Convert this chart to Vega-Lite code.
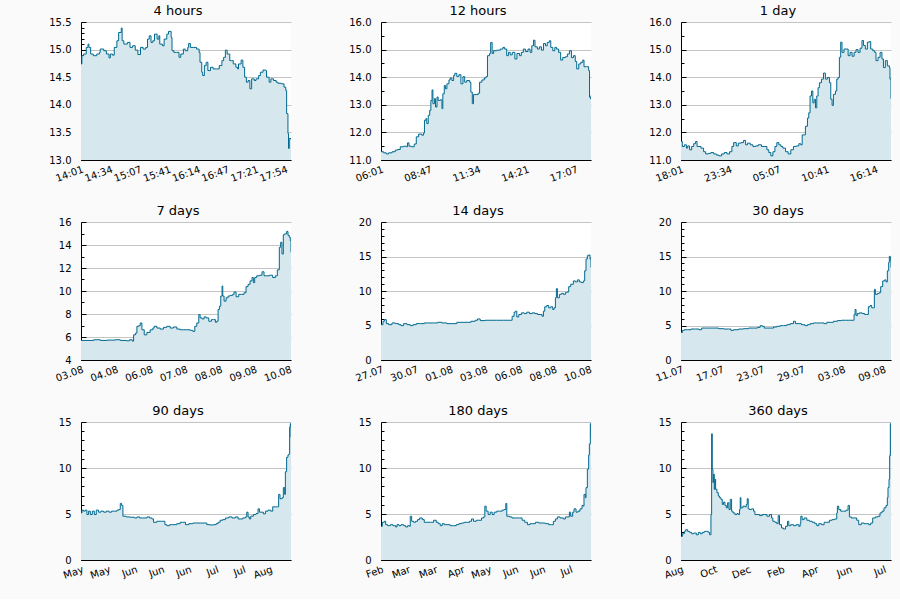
{
  "$schema": "https://vega.github.io/schema/vega-lite/v6.json",
  "background": "#fafafa",
  "padding": {"left": 48, "top": 5, "right": 9, "bottom": 18},
  "columns": 3,
  "spacing": {"row": 62, "column": 90},
  "bounds": "flush",
  "datasets": {
    "p1": [
      {"t":"2021-08-10T14:01:00","v":14.74},{"t":"2021-08-10T14:02:00","v":14.89},{"t":"2021-08-10T14:04:00","v":14.92},{"t":"2021-08-10T14:07:00","v":15.04},
      {"t":"2021-08-10T14:09:00","v":15.10},{"t":"2021-08-10T14:10:00","v":15.04},{"t":"2021-08-10T14:12:00","v":14.92},{"t":"2021-08-10T14:15:00","v":14.89},
      {"t":"2021-08-10T14:19:00","v":14.92},{"t":"2021-08-10T14:22:00","v":14.95},{"t":"2021-08-10T14:23:00","v":15.01},{"t":"2021-08-10T14:27:00","v":14.98},
      {"t":"2021-08-10T14:30:00","v":14.92},{"t":"2021-08-10T14:33:00","v":14.85},{"t":"2021-08-10T14:34:30","v":14.92},{"t":"2021-08-10T14:37:00","v":14.90},
      {"t":"2021-08-10T14:39:00","v":15.04},{"t":"2021-08-10T14:42:00","v":15.16},{"t":"2021-08-10T14:44:00","v":15.31},{"t":"2021-08-10T14:47:00","v":15.39},
      {"t":"2021-08-10T14:48:00","v":15.16},{"t":"2021-08-10T14:50:00","v":15.10},{"t":"2021-08-10T14:54:00","v":15.13},{"t":"2021-08-10T14:57:00","v":15.04},
      {"t":"2021-08-10T15:00:00","v":15.07},{"t":"2021-08-10T15:03:00","v":14.99},{"t":"2021-08-10T15:06:00","v":14.91},{"t":"2021-08-10T15:09:00","v":15.04},
      {"t":"2021-08-10T15:12:00","v":15.01},{"t":"2021-08-10T15:15:00","v":15.04},{"t":"2021-08-10T15:17:00","v":15.19},{"t":"2021-08-10T15:19:00","v":15.25},
      {"t":"2021-08-10T15:21:00","v":15.13},{"t":"2021-08-10T15:23:00","v":15.16},{"t":"2021-08-10T15:25:00","v":15.28},{"t":"2021-08-10T15:28:00","v":15.19},
      {"t":"2021-08-10T15:30:00","v":15.25},{"t":"2021-08-10T15:31:00","v":15.10},{"t":"2021-08-10T15:34:00","v":15.07},{"t":"2021-08-10T15:36:00","v":15.19},
      {"t":"2021-08-10T15:39:00","v":15.28},{"t":"2021-08-10T15:41:00","v":15.33},{"t":"2021-08-10T15:44:00","v":15.22},{"t":"2021-08-10T15:45:00","v":14.98},
      {"t":"2021-08-10T15:47:00","v":14.95},{"t":"2021-08-10T15:50:00","v":14.95},{"t":"2021-08-10T15:53:00","v":14.86},{"t":"2021-08-10T15:55:00","v":14.92},
      {"t":"2021-08-10T15:58:00","v":15.01},{"t":"2021-08-10T16:00:00","v":14.98},{"t":"2021-08-10T16:03:00","v":15.04},{"t":"2021-08-10T16:04:00","v":15.11},
      {"t":"2021-08-10T16:06:00","v":15.04},{"t":"2021-08-10T16:10:00","v":15.04},{"t":"2021-08-10T16:13:00","v":15.01},{"t":"2021-08-10T16:16:00","v":14.95},
      {"t":"2021-08-10T16:17:00","v":14.77},{"t":"2021-08-10T16:19:00","v":14.59},{"t":"2021-08-10T16:20:00","v":14.53},{"t":"2021-08-10T16:22:00","v":14.71},
      {"t":"2021-08-10T16:24:00","v":14.77},{"t":"2021-08-10T16:26:00","v":14.62},{"t":"2021-08-10T16:29:00","v":14.68},{"t":"2021-08-10T16:32:00","v":14.65},
      {"t":"2021-08-10T16:36:00","v":14.65},{"t":"2021-08-10T16:39:00","v":14.71},{"t":"2021-08-10T16:42:00","v":14.80},{"t":"2021-08-10T16:44:00","v":14.86},
      {"t":"2021-08-10T16:46:00","v":14.99},{"t":"2021-08-10T16:48:00","v":14.92},{"t":"2021-08-10T16:51:00","v":14.80},{"t":"2021-08-10T16:53:00","v":14.80},
      {"t":"2021-08-10T16:55:00","v":14.74},{"t":"2021-08-10T16:58:00","v":14.68},{"t":"2021-08-10T17:00:00","v":14.65},{"t":"2021-08-10T17:01:00","v":14.74},
      {"t":"2021-08-10T17:04:00","v":14.81},{"t":"2021-08-10T17:06:00","v":14.68},{"t":"2021-08-10T17:08:00","v":14.50},{"t":"2021-08-10T17:10:00","v":14.41},
      {"t":"2021-08-10T17:12:00","v":14.44},{"t":"2021-08-10T17:14:00","v":14.29},{"t":"2021-08-10T17:16:00","v":14.47},{"t":"2021-08-10T17:19:00","v":14.44},
      {"t":"2021-08-10T17:21:00","v":14.47},{"t":"2021-08-10T17:24:00","v":14.53},{"t":"2021-08-10T17:26:00","v":14.59},{"t":"2021-08-10T17:29:00","v":14.63},
      {"t":"2021-08-10T17:32:00","v":14.62},{"t":"2021-08-10T17:33:00","v":14.50},{"t":"2021-08-10T17:36:00","v":14.41},{"t":"2021-08-10T17:38:00","v":14.47},
      {"t":"2021-08-10T17:41:00","v":14.44},{"t":"2021-08-10T17:44:00","v":14.41},{"t":"2021-08-10T17:46:00","v":14.39},{"t":"2021-08-10T17:50:00","v":14.38},
      {"t":"2021-08-10T17:53:00","v":14.32},{"t":"2021-08-10T17:55:00","v":14.26},{"t":"2021-08-10T17:56:00","v":13.84},{"t":"2021-08-10T17:57:30","v":13.48},
      {"t":"2021-08-10T17:58:10","v":13.21},{"t":"2021-08-10T17:59:00","v":13.39},{"t":"2021-08-10T18:01:00","v":13.37}
    ],
    "p2": [
      {"t":"2021-08-10T06:01:00","v":11.30},{"t":"2021-08-10T06:10:00","v":11.26},{"t":"2021-08-10T06:19:00","v":11.22},{"t":"2021-08-10T06:27:00","v":11.26},
      {"t":"2021-08-10T06:39:00","v":11.30},{"t":"2021-08-10T06:50:00","v":11.36},{"t":"2021-08-10T06:58:00","v":11.38},{"t":"2021-08-10T07:07:00","v":11.48},
      {"t":"2021-08-10T07:19:00","v":11.50},{"t":"2021-08-10T07:28:00","v":11.48},{"t":"2021-08-10T07:32:00","v":11.62},{"t":"2021-08-10T07:37:00","v":11.50},
      {"t":"2021-08-10T07:46:00","v":11.48},{"t":"2021-08-10T07:55:00","v":11.58},{"t":"2021-08-10T08:02:00","v":11.84},{"t":"2021-08-10T08:10:00","v":11.94},
      {"t":"2021-08-10T08:21:00","v":11.90},{"t":"2021-08-10T08:27:00","v":11.98},{"t":"2021-08-10T08:30:00","v":12.44},{"t":"2021-08-10T08:35:00","v":12.50},
      {"t":"2021-08-10T08:38:00","v":12.32},{"t":"2021-08-10T08:43:00","v":12.62},{"t":"2021-08-10T08:48:00","v":12.80},{"t":"2021-08-10T08:52:00","v":13.16},
      {"t":"2021-08-10T08:56:00","v":13.54},{"t":"2021-08-10T08:59:00","v":13.04},{"t":"2021-08-10T09:04:00","v":13.22},{"t":"2021-08-10T09:08:00","v":12.92},
      {"t":"2021-08-10T09:13:00","v":13.28},{"t":"2021-08-10T09:17:00","v":13.16},{"t":"2021-08-10T09:24:00","v":13.18},{"t":"2021-08-10T09:30:00","v":12.86},
      {"t":"2021-08-10T09:33:00","v":13.40},{"t":"2021-08-10T09:38:00","v":13.70},{"t":"2021-08-10T09:42:00","v":13.58},{"t":"2021-08-10T09:47:00","v":13.76},
      {"t":"2021-08-10T09:54:00","v":13.90},{"t":"2021-08-10T09:58:00","v":13.97},{"t":"2021-08-10T10:04:00","v":13.88},{"t":"2021-08-10T10:10:00","v":14.06},
      {"t":"2021-08-10T10:14:00","v":14.14},{"t":"2021-08-10T10:21:00","v":14.02},{"t":"2021-08-10T10:28:00","v":14.09},{"t":"2021-08-10T10:35:00","v":13.76},
      {"t":"2021-08-10T10:42:00","v":14.02},{"t":"2021-08-10T10:48:00","v":13.82},{"t":"2021-08-10T10:55:00","v":13.88},{"t":"2021-08-10T11:05:00","v":13.82},
      {"t":"2021-08-10T11:09:00","v":13.46},{"t":"2021-08-10T11:14:00","v":13.04},{"t":"2021-08-10T11:18:00","v":13.37},{"t":"2021-08-10T11:27:00","v":13.37},
      {"t":"2021-08-10T11:34:00","v":13.42},{"t":"2021-08-10T11:39:00","v":13.82},{"t":"2021-08-10T11:47:00","v":13.90},{"t":"2021-08-10T11:55:00","v":13.97},
      {"t":"2021-08-10T12:01:00","v":14.02},{"t":"2021-08-10T12:06:00","v":14.78},{"t":"2021-08-10T12:13:00","v":14.86},{"t":"2021-08-10T12:17:00","v":15.26},
      {"t":"2021-08-10T12:22:00","v":14.86},{"t":"2021-08-10T12:27:00","v":14.96},{"t":"2021-08-10T12:38:00","v":14.98},{"t":"2021-08-10T12:50:00","v":15.02},
      {"t":"2021-08-10T12:59:00","v":15.08},{"t":"2021-08-10T13:05:00","v":15.02},{"t":"2021-08-10T13:12:00","v":14.78},{"t":"2021-08-10T13:18:00","v":14.90},
      {"t":"2021-08-10T13:24:00","v":14.81},{"t":"2021-08-10T13:31:00","v":14.90},{"t":"2021-08-10T13:40:00","v":14.66},{"t":"2021-08-10T13:47:00","v":14.86},
      {"t":"2021-08-10T13:56:00","v":14.78},{"t":"2021-08-10T14:02:00","v":14.90},{"t":"2021-08-10T14:09:00","v":15.02},{"t":"2021-08-10T14:16:00","v":14.93},
      {"t":"2021-08-10T14:25:00","v":15.02},{"t":"2021-08-10T14:32:00","v":14.90},{"t":"2021-08-10T14:38:00","v":15.14},{"t":"2021-08-10T14:44:00","v":15.34},
      {"t":"2021-08-10T14:49:00","v":15.10},{"t":"2021-08-10T14:57:00","v":15.02},{"t":"2021-08-10T15:04:00","v":15.10},{"t":"2021-08-10T15:11:00","v":14.98},
      {"t":"2021-08-10T15:18:00","v":15.22},{"t":"2021-08-10T15:25:00","v":15.14},{"t":"2021-08-10T15:31:00","v":15.26},{"t":"2021-08-10T15:38:00","v":15.32},
      {"t":"2021-08-10T15:43:00","v":15.08},{"t":"2021-08-10T15:50:00","v":14.96},{"t":"2021-08-10T15:57:00","v":15.08},{"t":"2021-08-10T16:03:00","v":15.02},
      {"t":"2021-08-10T16:10:00","v":14.90},{"t":"2021-08-10T16:17:00","v":14.62},{"t":"2021-08-10T16:24:00","v":14.71},{"t":"2021-08-10T16:33:00","v":14.74},
      {"t":"2021-08-10T16:40:00","v":14.84},{"t":"2021-08-10T16:47:00","v":14.96},{"t":"2021-08-10T16:54:00","v":14.71},{"t":"2021-08-10T17:01:00","v":14.78},
      {"t":"2021-08-10T17:07:00","v":14.57},{"t":"2021-08-10T17:12:00","v":14.30},{"t":"2021-08-10T17:19:00","v":14.48},{"t":"2021-08-10T17:26:00","v":14.54},
      {"t":"2021-08-10T17:33:00","v":14.62},{"t":"2021-08-10T17:37:00","v":14.38},{"t":"2021-08-10T17:46:00","v":14.38},{"t":"2021-08-10T17:53:00","v":14.24},
      {"t":"2021-08-10T17:56:00","v":13.28},{"t":"2021-08-10T17:59:00","v":13.22},{"t":"2021-08-10T18:01:00","v":13.34}
    ],
    "p3": [
      {"t":"2021-08-09T18:01:00","v":11.67},{"t":"2021-08-09T18:10:00","v":11.49},{"t":"2021-08-09T18:24:00","v":11.55},{"t":"2021-08-09T18:38:00","v":11.43},
      {"t":"2021-08-09T18:47:00","v":11.51},{"t":"2021-08-09T19:00:00","v":11.37},{"t":"2021-08-09T19:14:00","v":11.49},{"t":"2021-08-09T19:28:00","v":11.59},
      {"t":"2021-08-09T19:41:00","v":11.67},{"t":"2021-08-09T19:51:00","v":11.49},{"t":"2021-08-09T20:04:00","v":11.49},{"t":"2021-08-09T20:18:00","v":11.43},
      {"t":"2021-08-09T20:36:00","v":11.30},{"t":"2021-08-09T20:50:00","v":11.22},{"t":"2021-08-09T21:08:00","v":11.24},{"t":"2021-08-09T21:26:00","v":11.27},
      {"t":"2021-08-09T21:45:00","v":11.22},{"t":"2021-08-09T22:03:00","v":11.18},{"t":"2021-08-09T22:21:00","v":11.15},{"t":"2021-08-09T22:39:00","v":11.22},
      {"t":"2021-08-09T22:58:00","v":11.27},{"t":"2021-08-09T23:16:00","v":11.22},{"t":"2021-08-09T23:34:00","v":11.30},{"t":"2021-08-09T23:50:00","v":11.49},
      {"t":"2021-08-10T00:02:00","v":11.63},{"t":"2021-08-10T00:20:00","v":11.51},{"t":"2021-08-10T00:34:00","v":11.61},{"t":"2021-08-10T00:52:00","v":11.63},
      {"t":"2021-08-10T01:10:00","v":11.71},{"t":"2021-08-10T01:24:00","v":11.55},{"t":"2021-08-10T01:37:00","v":11.61},{"t":"2021-08-10T01:56:00","v":11.55},
      {"t":"2021-08-10T02:14:00","v":11.49},{"t":"2021-08-10T02:32:00","v":11.51},{"t":"2021-08-10T02:50:00","v":11.55},{"t":"2021-08-10T03:13:00","v":11.49},
      {"t":"2021-08-10T03:31:00","v":11.49},{"t":"2021-08-10T03:50:00","v":11.37},{"t":"2021-08-10T04:03:00","v":11.27},{"t":"2021-08-10T04:17:00","v":11.15},
      {"t":"2021-08-10T04:31:00","v":11.30},{"t":"2021-08-10T04:45:00","v":11.49},{"t":"2021-08-10T04:58:00","v":11.63},{"t":"2021-08-10T05:12:00","v":11.55},
      {"t":"2021-08-10T05:26:00","v":11.49},{"t":"2021-08-10T05:39:00","v":11.43},{"t":"2021-08-10T05:58:00","v":11.30},{"t":"2021-08-10T06:16:00","v":11.22},
      {"t":"2021-08-10T06:34:00","v":11.37},{"t":"2021-08-10T06:52:00","v":11.49},{"t":"2021-08-10T07:11:00","v":11.51},{"t":"2021-08-10T07:29:00","v":11.59},
      {"t":"2021-08-10T07:42:00","v":11.55},{"t":"2021-08-10T07:52:00","v":11.91},{"t":"2021-08-10T08:05:00","v":11.91},{"t":"2021-08-10T08:14:00","v":12.22},
      {"t":"2021-08-10T08:28:00","v":12.52},{"t":"2021-08-10T08:37:00","v":12.71},{"t":"2021-08-10T08:46:00","v":13.32},{"t":"2021-08-10T08:56:00","v":13.50},
      {"t":"2021-08-10T09:05:00","v":13.07},{"t":"2021-08-10T09:14:00","v":13.20},{"t":"2021-08-10T09:23:00","v":12.89},{"t":"2021-08-10T09:32:00","v":13.32},
      {"t":"2021-08-10T09:41:00","v":13.62},{"t":"2021-08-10T09:50:00","v":13.80},{"t":"2021-08-10T10:04:00","v":13.93},{"t":"2021-08-10T10:18:00","v":14.15},
      {"t":"2021-08-10T10:31:00","v":13.93},{"t":"2021-08-10T10:45:00","v":13.99},{"t":"2021-08-10T10:59:00","v":13.80},{"t":"2021-08-10T11:08:00","v":13.20},
      {"t":"2021-08-10T11:17:00","v":12.98},{"t":"2021-08-10T11:26:00","v":13.38},{"t":"2021-08-10T11:40:00","v":13.50},{"t":"2021-08-10T11:49:00","v":13.93},
      {"t":"2021-08-10T11:58:00","v":13.99},{"t":"2021-08-10T12:07:00","v":14.72},{"t":"2021-08-10T12:16:00","v":15.27},{"t":"2021-08-10T12:25:00","v":14.90},
      {"t":"2021-08-10T12:39:00","v":15.02},{"t":"2021-08-10T12:53:00","v":15.02},{"t":"2021-08-10T13:07:00","v":14.78},{"t":"2021-08-10T13:20:00","v":14.90},
      {"t":"2021-08-10T13:34:00","v":14.76},{"t":"2021-08-10T13:48:00","v":14.90},{"t":"2021-08-10T14:01:00","v":15.00},{"t":"2021-08-10T14:15:00","v":14.90},
      {"t":"2021-08-10T14:29:00","v":15.05},{"t":"2021-08-10T14:42:00","v":15.33},{"t":"2021-08-10T14:52:00","v":15.15},{"t":"2021-08-10T15:05:00","v":15.02},
      {"t":"2021-08-10T15:19:00","v":15.27},{"t":"2021-08-10T15:33:00","v":15.29},{"t":"2021-08-10T15:42:00","v":15.02},{"t":"2021-08-10T15:56:00","v":14.96},
      {"t":"2021-08-10T16:09:00","v":14.90},{"t":"2021-08-10T16:18:00","v":14.60},{"t":"2021-08-10T16:32:00","v":14.72},{"t":"2021-08-10T16:46:00","v":14.90},
      {"t":"2021-08-10T16:59:00","v":14.66},{"t":"2021-08-10T17:09:00","v":14.35},{"t":"2021-08-10T17:22:00","v":14.60},{"t":"2021-08-10T17:36:00","v":14.41},
      {"t":"2021-08-10T17:50:00","v":14.35},{"t":"2021-08-10T17:54:00","v":13.93},{"t":"2021-08-10T18:01:00","v":13.22}
    ],
    "p4": [
      {"t":"2021-08-03T18:01:00","v":5.70},{"t":"2021-08-03T22:48:00","v":5.70},{"t":"2021-08-04T04:08:00","v":5.76},{"t":"2021-08-04T09:27:00","v":5.70},
      {"t":"2021-08-04T14:47:00","v":5.73},{"t":"2021-08-04T21:26:00","v":5.76},{"t":"2021-08-05T01:26:00","v":5.70},{"t":"2021-08-05T06:13:00","v":5.67},
      {"t":"2021-08-05T08:53:00","v":5.76},{"t":"2021-08-05T11:01:00","v":5.64},{"t":"2021-08-05T12:05:00","v":6.19},{"t":"2021-08-05T13:41:00","v":6.34},
      {"t":"2021-08-05T14:44:00","v":6.93},{"t":"2021-08-05T16:20:00","v":6.99},{"t":"2021-08-05T17:24:00","v":7.22},{"t":"2021-08-05T18:44:00","v":6.63},
      {"t":"2021-08-05T20:36:00","v":6.19},{"t":"2021-08-05T22:44:00","v":6.40},{"t":"2021-08-06T01:23:00","v":6.63},{"t":"2021-08-06T03:31:00","v":6.78},
      {"t":"2021-08-06T04:35:00","v":6.93},{"t":"2021-08-06T06:42:00","v":6.78},{"t":"2021-08-06T09:22:00","v":6.69},{"t":"2021-08-06T12:02:00","v":6.84},
      {"t":"2021-08-06T14:42:00","v":6.93},{"t":"2021-08-06T17:21:00","v":6.78},{"t":"2021-08-06T20:01:00","v":6.87},{"t":"2021-08-06T22:41:00","v":6.69},
      {"t":"2021-08-07T01:21:00","v":6.63},{"t":"2021-08-07T04:00:00","v":6.63},{"t":"2021-08-07T06:40:00","v":6.63},{"t":"2021-08-07T09:20:00","v":6.58},
      {"t":"2021-08-07T11:27:00","v":6.49},{"t":"2021-08-07T13:03:00","v":6.93},{"t":"2021-08-07T14:39:00","v":7.22},{"t":"2021-08-07T16:15:00","v":7.95},
      {"t":"2021-08-07T17:19:00","v":7.66},{"t":"2021-08-07T18:55:00","v":7.57},{"t":"2021-08-07T20:30:00","v":7.75},{"t":"2021-08-07T22:06:00","v":7.66},
      {"t":"2021-08-08T00:14:00","v":7.37},{"t":"2021-08-08T02:22:00","v":7.51},{"t":"2021-08-08T03:58:00","v":7.51},{"t":"2021-08-08T05:33:00","v":7.28},
      {"t":"2021-08-08T06:38:00","v":7.37},{"t":"2021-08-08T07:41:00","v":8.39},{"t":"2021-08-08T08:45:00","v":8.68},{"t":"2021-08-08T09:49:00","v":9.56},
      {"t":"2021-08-08T10:53:00","v":10.44},{"t":"2021-08-08T11:25:00","v":9.56},{"t":"2021-08-08T12:29:00","v":9.12},{"t":"2021-08-08T14:05:00","v":9.41},
      {"t":"2021-08-08T15:41:00","v":9.56},{"t":"2021-08-08T17:17:00","v":9.62},{"t":"2021-08-08T19:24:00","v":9.71},{"t":"2021-08-08T20:28:00","v":9.91},
      {"t":"2021-08-08T22:04:00","v":9.50},{"t":"2021-08-09T00:12:00","v":9.71},{"t":"2021-08-09T02:20:00","v":9.71},{"t":"2021-08-09T04:27:00","v":9.85},
      {"t":"2021-08-09T06:03:00","v":10.38},{"t":"2021-08-09T07:39:00","v":10.58},{"t":"2021-08-09T09:15:00","v":10.88},{"t":"2021-08-09T10:51:00","v":11.17},
      {"t":"2021-08-09T11:54:00","v":10.73},{"t":"2021-08-09T12:58:00","v":11.17},{"t":"2021-08-09T14:34:00","v":11.32},{"t":"2021-08-09T16:42:00","v":11.37},
      {"t":"2021-08-09T18:50:00","v":11.67},{"t":"2021-08-09T20:26:00","v":11.32},{"t":"2021-08-09T22:33:00","v":11.32},{"t":"2021-08-10T00:41:00","v":11.37},
      {"t":"2021-08-10T03:21:00","v":11.17},{"t":"2021-08-10T05:29:00","v":11.32},{"t":"2021-08-10T07:05:00","v":11.84},{"t":"2021-08-10T08:40:00","v":13.80},
      {"t":"2021-08-10T09:44:00","v":14.24},{"t":"2021-08-10T10:48:00","v":13.22},{"t":"2021-08-10T11:52:00","v":14.89},{"t":"2021-08-10T12:56:00","v":14.97},
      {"t":"2021-08-10T14:32:00","v":15.18},{"t":"2021-08-10T15:36:00","v":14.83},{"t":"2021-08-10T16:39:00","v":14.68},{"t":"2021-08-10T17:27:00","v":14.39},
      {"t":"2021-08-10T18:01:00","v":13.37}
    ],
    "p5": [
      {"t":"2021-07-27T18:01:00","v":5.12},{"t":"2021-07-27T21:13:00","v":5.61},{"t":"2021-07-27T23:21:00","v":5.85},{"t":"2021-07-28T02:32:00","v":5.27},
      {"t":"2021-07-28T06:16:00","v":5.12},{"t":"2021-07-28T11:35:00","v":5.37},{"t":"2021-07-28T16:55:00","v":5.27},{"t":"2021-07-28T22:14:00","v":5.12},
      {"t":"2021-07-29T01:58:00","v":4.98},{"t":"2021-07-29T06:14:00","v":5.27},{"t":"2021-07-29T11:33:00","v":5.12},{"t":"2021-07-29T16:53:00","v":4.98},
      {"t":"2021-07-29T21:08:00","v":5.12},{"t":"2021-07-30T02:28:00","v":5.27},{"t":"2021-07-30T08:51:00","v":5.27},{"t":"2021-07-30T15:15:00","v":5.37},
      {"t":"2021-07-30T22:10:00","v":5.37},{"t":"2021-07-31T06:09:00","v":5.37},{"t":"2021-07-31T12:33:00","v":5.46},{"t":"2021-07-31T19:28:00","v":5.37},
      {"t":"2021-08-01T03:27:00","v":5.27},{"t":"2021-08-01T11:26:00","v":5.27},{"t":"2021-08-01T19:26:00","v":5.46},{"t":"2021-08-02T03:25:00","v":5.46},
      {"t":"2021-08-02T11:24:00","v":5.46},{"t":"2021-08-02T17:48:00","v":5.61},{"t":"2021-08-03T00:43:00","v":5.76},{"t":"2021-08-03T04:27:00","v":5.95},
      {"t":"2021-08-03T08:42:00","v":5.71},{"t":"2021-08-03T16:41:00","v":5.76},{"t":"2021-08-04T00:41:00","v":5.76},{"t":"2021-08-04T11:20:00","v":5.76},
      {"t":"2021-08-04T21:59:00","v":5.76},{"t":"2021-08-05T03:18:00","v":5.76},{"t":"2021-08-05T09:42:00","v":5.76},{"t":"2021-08-05T11:50:00","v":6.34},
      {"t":"2021-08-05T15:01:00","v":6.93},{"t":"2021-08-05T17:09:00","v":7.07},{"t":"2021-08-05T19:17:00","v":6.24},{"t":"2021-08-05T22:29:00","v":6.59},
      {"t":"2021-08-06T02:44:00","v":6.83},{"t":"2021-08-06T06:59:00","v":6.73},{"t":"2021-08-06T11:15:00","v":6.93},{"t":"2021-08-06T15:31:00","v":6.73},
      {"t":"2021-08-06T19:47:00","v":6.83},{"t":"2021-08-07T00:02:00","v":6.73},{"t":"2021-08-07T04:18:00","v":6.59},{"t":"2021-08-07T08:33:00","v":6.59},
      {"t":"2021-08-07T11:45:00","v":6.34},{"t":"2021-08-07T13:53:00","v":7.07},{"t":"2021-08-07T16:00:00","v":7.71},{"t":"2021-08-07T19:12:00","v":7.90},
      {"t":"2021-08-07T22:24:00","v":7.56},{"t":"2021-08-08T01:36:00","v":7.71},{"t":"2021-08-08T04:47:00","v":7.32},{"t":"2021-08-08T06:55:00","v":7.56},
      {"t":"2021-08-08T09:03:00","v":9.02},{"t":"2021-08-08T10:39:00","v":10.34},{"t":"2021-08-08T12:15:00","v":9.02},{"t":"2021-08-08T15:26:00","v":9.51},
      {"t":"2021-08-08T18:38:00","v":9.66},{"t":"2021-08-08T21:50:00","v":9.51},{"t":"2021-08-09T01:02:00","v":9.76},{"t":"2021-08-09T03:09:00","v":9.85},
      {"t":"2021-08-09T06:21:00","v":10.63},{"t":"2021-08-09T09:33:00","v":10.98},{"t":"2021-08-09T13:48:00","v":11.46},{"t":"2021-08-09T17:00:00","v":11.32},
      {"t":"2021-08-09T20:12:00","v":11.61},{"t":"2021-08-09T23:23:00","v":11.32},{"t":"2021-08-10T02:35:00","v":11.22},{"t":"2021-08-10T05:47:00","v":11.46},
      {"t":"2021-08-10T07:54:00","v":12.93},{"t":"2021-08-10T10:02:00","v":14.63},{"t":"2021-08-10T12:10:00","v":15.12},{"t":"2021-08-10T14:18:00","v":15.22},
      {"t":"2021-08-10T16:26:00","v":14.63},{"t":"2021-08-10T18:01:00","v":13.41}
    ],
    "p6": [
      {"t":"2021-07-11T18:01:00","v":4.00},{"t":"2021-07-11T22:35:00","v":4.29},{"t":"2021-07-12T05:26:00","v":4.39},{"t":"2021-07-12T16:50:00","v":4.39},
      {"t":"2021-07-13T04:15:00","v":4.49},{"t":"2021-07-13T19:05:00","v":4.49},{"t":"2021-07-14T07:38:00","v":4.39},{"t":"2021-07-14T16:45:00","v":4.63},
      {"t":"2021-07-15T01:53:00","v":4.63},{"t":"2021-07-15T16:44:00","v":4.63},{"t":"2021-07-16T09:50:00","v":4.63},{"t":"2021-07-17T02:57:00","v":4.54},
      {"t":"2021-07-17T20:04:00","v":4.49},{"t":"2021-07-18T13:11:00","v":4.49},{"t":"2021-07-18T21:10:00","v":4.29},{"t":"2021-07-19T06:18:00","v":4.39},
      {"t":"2021-07-19T23:25:00","v":4.49},{"t":"2021-07-20T16:32:00","v":4.54},{"t":"2021-07-21T09:39:00","v":4.63},{"t":"2021-07-22T02:45:00","v":4.63},
      {"t":"2021-07-22T16:27:00","v":4.73},{"t":"2021-07-23T01:35:00","v":4.98},{"t":"2021-07-23T08:26:00","v":4.88},{"t":"2021-07-23T15:17:00","v":4.63},
      {"t":"2021-07-24T00:24:00","v":4.63},{"t":"2021-07-24T11:49:00","v":4.63},{"t":"2021-07-24T23:14:00","v":4.78},{"t":"2021-07-25T10:38:00","v":4.88},
      {"t":"2021-07-25T22:03:00","v":4.98},{"t":"2021-07-26T09:27:00","v":4.98},{"t":"2021-07-26T20:52:00","v":5.12},{"t":"2021-07-27T08:17:00","v":5.27},
      {"t":"2021-07-27T19:41:00","v":5.61},{"t":"2021-07-28T02:32:00","v":5.27},{"t":"2021-07-28T11:40:00","v":5.27},{"t":"2021-07-28T23:05:00","v":5.12},
      {"t":"2021-07-29T10:29:00","v":4.98},{"t":"2021-07-29T19:37:00","v":5.12},{"t":"2021-07-30T04:45:00","v":5.27},{"t":"2021-07-30T16:09:00","v":5.37},
      {"t":"2021-07-31T03:34:00","v":5.37},{"t":"2021-07-31T14:59:00","v":5.37},{"t":"2021-08-01T04:40:00","v":5.27},{"t":"2021-08-01T13:48:00","v":5.46},
      {"t":"2021-08-02T01:12:00","v":5.46},{"t":"2021-08-02T12:37:00","v":5.61},{"t":"2021-08-03T02:18:00","v":5.71},{"t":"2021-08-03T16:00:00","v":5.76},
      {"t":"2021-08-04T05:41:00","v":5.76},{"t":"2021-08-04T19:23:00","v":5.76},{"t":"2021-08-05T09:05:00","v":5.76},{"t":"2021-08-05T11:21:00","v":6.59},
      {"t":"2021-08-05T14:47:00","v":7.32},{"t":"2021-08-05T18:12:00","v":6.44},{"t":"2021-08-05T22:46:00","v":6.73},{"t":"2021-08-06T05:37:00","v":6.83},
      {"t":"2021-08-06T14:45:00","v":6.73},{"t":"2021-08-06T23:53:00","v":6.59},{"t":"2021-08-07T06:43:00","v":6.59},{"t":"2021-08-07T12:26:00","v":7.71},
      {"t":"2021-08-07T18:08:00","v":7.90},{"t":"2021-08-07T23:50:00","v":7.56},{"t":"2021-08-08T05:32:00","v":7.56},{"t":"2021-08-08T08:58:00","v":10.24},
      {"t":"2021-08-08T12:23:00","v":9.51},{"t":"2021-08-08T19:14:00","v":9.66},{"t":"2021-08-09T02:05:00","v":9.76},{"t":"2021-08-09T06:39:00","v":10.63},
      {"t":"2021-08-09T13:29:00","v":11.46},{"t":"2021-08-09T20:20:00","v":11.61},{"t":"2021-08-10T00:54:00","v":11.32},{"t":"2021-08-10T05:28:00","v":12.93},
      {"t":"2021-08-10T10:02:00","v":14.15},{"t":"2021-08-10T12:18:00","v":15.02},{"t":"2021-08-10T15:44:00","v":14.39},{"t":"2021-08-10T18:01:00","v":13.41}
    ],
    "p7": [
      {"t":"2021-05-12T18:01:00","v":5.12},{"t":"2021-05-13T04:00:00","v":5.42},{"t":"2021-05-13T21:00:00","v":5.31},{"t":"2021-05-14T14:00:00","v":5.42},
      {"t":"2021-05-15T07:00:00","v":4.94},{"t":"2021-05-16T00:00:00","v":5.31},{"t":"2021-05-16T18:00:00","v":4.94},{"t":"2021-05-17T14:00:00","v":5.31},
      {"t":"2021-05-18T11:00:00","v":4.94},{"t":"2021-05-19T07:00:00","v":5.42},{"t":"2021-05-20T07:00:00","v":5.20},{"t":"2021-05-21T07:00:00","v":5.31},
      {"t":"2021-05-22T11:00:00","v":5.20},{"t":"2021-05-23T14:00:00","v":5.31},{"t":"2021-05-24T18:00:00","v":5.20},{"t":"2021-05-25T21:00:00","v":5.31},
      {"t":"2021-05-27T00:00:00","v":5.31},{"t":"2021-05-28T04:00:00","v":5.42},{"t":"2021-05-29T00:00:00","v":5.49},{"t":"2021-05-29T14:00:00","v":6.15},
      {"t":"2021-05-30T04:00:00","v":5.93},{"t":"2021-05-30T17:00:00","v":4.76},{"t":"2021-06-01T04:00:00","v":4.68},{"t":"2021-06-02T21:00:00","v":4.65},
      {"t":"2021-06-04T14:00:00","v":4.57},{"t":"2021-06-05T17:00:00","v":4.68},{"t":"2021-06-06T20:00:00","v":4.57},{"t":"2021-06-08T07:00:00","v":4.57},
      {"t":"2021-06-10T00:00:00","v":4.68},{"t":"2021-06-11T03:00:00","v":4.57},{"t":"2021-06-12T03:00:00","v":4.46},{"t":"2021-06-12T20:00:00","v":4.10},
      {"t":"2021-06-14T06:00:00","v":4.21},{"t":"2021-06-15T17:00:00","v":4.21},{"t":"2021-06-16T20:00:00","v":4.21},{"t":"2021-06-17T17:00:00","v":3.84},
      {"t":"2021-06-18T13:00:00","v":3.73},{"t":"2021-06-19T17:00:00","v":3.84},{"t":"2021-06-21T03:00:00","v":3.84},{"t":"2021-06-22T20:00:00","v":3.95},
      {"t":"2021-06-24T06:00:00","v":4.10},{"t":"2021-06-25T09:00:00","v":4.10},{"t":"2021-06-26T13:00:00","v":3.84},{"t":"2021-06-27T23:00:00","v":3.95},
      {"t":"2021-06-29T16:00:00","v":4.02},{"t":"2021-07-01T09:00:00","v":4.02},{"t":"2021-07-02T20:00:00","v":4.02},{"t":"2021-07-04T12:00:00","v":4.02},
      {"t":"2021-07-05T16:00:00","v":3.84},{"t":"2021-07-07T02:00:00","v":3.81},{"t":"2021-07-08T12:00:00","v":3.84},{"t":"2021-07-09T16:00:00","v":3.95},
      {"t":"2021-07-10T12:00:00","v":4.10},{"t":"2021-07-11T09:00:00","v":4.32},{"t":"2021-07-12T12:00:00","v":4.39},{"t":"2021-07-13T16:00:00","v":4.57},
      {"t":"2021-07-15T02:00:00","v":4.68},{"t":"2021-07-16T12:00:00","v":4.57},{"t":"2021-07-17T22:00:00","v":4.68},{"t":"2021-07-19T02:00:00","v":4.46},
      {"t":"2021-07-20T05:00:00","v":4.46},{"t":"2021-07-21T02:00:00","v":4.57},{"t":"2021-07-22T05:00:00","v":4.68},{"t":"2021-07-22T19:00:00","v":5.20},
      {"t":"2021-07-23T08:00:00","v":4.68},{"t":"2021-07-23T22:00:00","v":4.46},{"t":"2021-07-24T12:00:00","v":4.76},{"t":"2021-07-25T15:00:00","v":4.94},
      {"t":"2021-07-26T19:00:00","v":5.05},{"t":"2021-07-27T15:00:00","v":5.56},{"t":"2021-07-28T05:00:00","v":5.20},{"t":"2021-07-29T08:00:00","v":5.20},
      {"t":"2021-07-29T22:00:00","v":5.01},{"t":"2021-07-30T19:00:00","v":5.31},{"t":"2021-07-31T22:00:00","v":5.42},{"t":"2021-08-02T01:00:00","v":5.31},
      {"t":"2021-08-02T22:00:00","v":5.78},{"t":"2021-08-04T01:00:00","v":5.78},{"t":"2021-08-04T22:00:00","v":5.78},{"t":"2021-08-05T11:00:00","v":7.13},
      {"t":"2021-08-06T01:00:00","v":6.66},{"t":"2021-08-06T22:00:00","v":6.77},{"t":"2021-08-07T11:00:00","v":7.87},{"t":"2021-08-08T01:00:00","v":7.13},
      {"t":"2021-08-08T08:00:00","v":9.59},{"t":"2021-08-08T21:00:00","v":11.16},{"t":"2021-08-09T11:00:00","v":11.42},{"t":"2021-08-09T21:00:00","v":11.53},
      {"t":"2021-08-10T04:00:00","v":14.45},{"t":"2021-08-10T11:00:00","v":14.82},{"t":"2021-08-10T18:01:00","v":13.36}
    ],
    "p8": [
      {"t":"2021-02-11T18:01:00","v":3.66},{"t":"2021-02-12T21:00:00","v":4.10},{"t":"2021-02-14T14:00:00","v":4.21},{"t":"2021-02-15T18:00:00","v":3.84},
      {"t":"2021-02-17T11:00:00","v":3.73},{"t":"2021-02-19T18:00:00","v":3.84},{"t":"2021-02-22T00:00:00","v":3.73},{"t":"2021-02-24T07:00:00","v":3.59},
      {"t":"2021-02-25T11:00:00","v":3.84},{"t":"2021-02-27T04:00:00","v":3.73},{"t":"2021-02-28T21:00:00","v":3.84},{"t":"2021-03-03T04:00:00","v":3.73},
      {"t":"2021-03-04T21:00:00","v":3.59},{"t":"2021-03-06T14:00:00","v":3.73},{"t":"2021-03-08T07:00:00","v":3.66},{"t":"2021-03-08T20:00:00","v":4.76},
      {"t":"2021-03-10T00:00:00","v":4.21},{"t":"2021-03-11T17:00:00","v":4.10},{"t":"2021-03-13T10:00:00","v":4.21},{"t":"2021-03-15T03:00:00","v":4.39},
      {"t":"2021-03-16T20:00:00","v":4.57},{"t":"2021-03-19T03:00:00","v":4.39},{"t":"2021-03-20T20:00:00","v":4.10},{"t":"2021-03-23T03:00:00","v":4.10},
      {"t":"2021-03-25T23:00:00","v":4.10},{"t":"2021-03-28T20:00:00","v":4.32},{"t":"2021-03-31T02:00:00","v":4.10},{"t":"2021-04-01T20:00:00","v":3.95},
      {"t":"2021-04-03T13:00:00","v":3.73},{"t":"2021-04-05T06:00:00","v":3.95},{"t":"2021-04-06T23:00:00","v":3.84},{"t":"2021-04-09T06:00:00","v":3.84},
      {"t":"2021-04-12T02:00:00","v":3.73},{"t":"2021-04-14T23:00:00","v":3.73},{"t":"2021-04-17T05:00:00","v":3.84},{"t":"2021-04-19T12:00:00","v":3.95},
      {"t":"2021-04-21T19:00:00","v":4.02},{"t":"2021-04-24T02:00:00","v":4.10},{"t":"2021-04-26T08:00:00","v":4.10},{"t":"2021-04-28T15:00:00","v":4.21},
      {"t":"2021-04-30T08:00:00","v":4.46},{"t":"2021-05-02T01:00:00","v":4.21},{"t":"2021-05-04T08:00:00","v":4.32},{"t":"2021-05-06T15:00:00","v":4.32},
      {"t":"2021-05-08T22:00:00","v":4.57},{"t":"2021-05-10T15:00:00","v":4.68},{"t":"2021-05-11T18:00:00","v":5.85},{"t":"2021-05-12T21:00:00","v":5.31},
      {"t":"2021-05-14T14:00:00","v":4.94},{"t":"2021-05-16T08:00:00","v":5.20},{"t":"2021-05-18T01:00:00","v":4.94},{"t":"2021-05-19T18:00:00","v":5.20},
      {"t":"2021-05-22T00:00:00","v":5.31},{"t":"2021-05-24T07:00:00","v":5.31},{"t":"2021-05-26T14:00:00","v":5.42},{"t":"2021-05-28T07:00:00","v":5.49},
      {"t":"2021-05-29T17:00:00","v":6.15},{"t":"2021-05-30T14:00:00","v":4.76},{"t":"2021-06-01T21:00:00","v":4.68},{"t":"2021-06-04T03:00:00","v":4.57},
      {"t":"2021-06-07T14:00:00","v":4.57},{"t":"2021-06-10T10:00:00","v":4.57},{"t":"2021-06-12T17:00:00","v":4.32},{"t":"2021-06-14T23:00:00","v":4.10},
      {"t":"2021-06-17T06:00:00","v":3.84},{"t":"2021-06-19T13:00:00","v":3.95},{"t":"2021-06-21T20:00:00","v":3.95},{"t":"2021-06-24T03:00:00","v":4.10},
      {"t":"2021-06-26T23:00:00","v":4.02},{"t":"2021-06-29T20:00:00","v":4.02},{"t":"2021-07-02T16:00:00","v":3.95},{"t":"2021-07-05T12:00:00","v":3.84},
      {"t":"2021-07-07T19:00:00","v":3.84},{"t":"2021-07-09T12:00:00","v":4.21},{"t":"2021-07-11T06:00:00","v":4.46},{"t":"2021-07-12T23:00:00","v":4.68},
      {"t":"2021-07-15T05:00:00","v":4.57},{"t":"2021-07-18T02:00:00","v":4.46},{"t":"2021-07-19T19:00:00","v":4.68},{"t":"2021-07-22T02:00:00","v":4.68},
      {"t":"2021-07-23T05:00:00","v":5.20},{"t":"2021-07-24T08:00:00","v":4.76},{"t":"2021-07-26T01:00:00","v":5.20},{"t":"2021-07-27T05:00:00","v":5.56},
      {"t":"2021-07-28T22:00:00","v":5.20},{"t":"2021-07-30T15:00:00","v":5.31},{"t":"2021-08-01T08:00:00","v":5.56},{"t":"2021-08-03T01:00:00","v":5.93},
      {"t":"2021-08-04T05:00:00","v":5.85},{"t":"2021-08-04T18:00:00","v":7.13},{"t":"2021-08-05T22:00:00","v":6.77},{"t":"2021-08-06T11:00:00","v":7.87},
      {"t":"2021-08-07T15:00:00","v":9.88},{"t":"2021-08-08T18:00:00","v":11.42},{"t":"2021-08-09T08:00:00","v":12.62},{"t":"2021-08-10T04:00:00","v":14.82},
      {"t":"2021-08-10T18:01:00","v":13.36}
    ],
    "p9": [
      {"t":"2020-08-15T18:01:00","v":2.56},{"t":"2020-08-18T01:00:00","v":2.85},{"t":"2020-08-21T11:00:00","v":3.11},{"t":"2020-08-23T18:00:00","v":3.29},
      {"t":"2020-08-27T04:00:00","v":3.11},{"t":"2020-08-30T14:00:00","v":3.00},{"t":"2020-09-03T00:00:00","v":2.85},{"t":"2020-09-06T10:00:00","v":2.93},
      {"t":"2020-09-11T00:00:00","v":2.74},{"t":"2020-09-14T10:00:00","v":3.00},{"t":"2020-09-17T20:00:00","v":2.85},{"t":"2020-09-21T06:00:00","v":3.00},
      {"t":"2020-09-24T17:00:00","v":3.11},{"t":"2020-09-28T03:00:00","v":3.11},{"t":"2020-10-01T13:00:00","v":3.00},{"t":"2020-10-03T19:00:00","v":2.74},
      {"t":"2020-10-05T12:00:00","v":2.74},{"t":"2020-10-06T02:00:00","v":4.94},{"t":"2020-10-07T06:00:00","v":13.72},{"t":"2020-10-08T09:00:00","v":9.88},
      {"t":"2020-10-09T12:00:00","v":8.42},{"t":"2020-10-10T16:00:00","v":9.33},{"t":"2020-10-11T19:00:00","v":7.68},{"t":"2020-10-12T23:00:00","v":8.78},
      {"t":"2020-10-14T02:00:00","v":7.68},{"t":"2020-10-16T09:00:00","v":7.32},{"t":"2020-10-18T16:00:00","v":6.95},{"t":"2020-10-20T22:00:00","v":6.77},
      {"t":"2020-10-23T05:00:00","v":6.59},{"t":"2020-10-25T12:00:00","v":6.04},{"t":"2020-10-27T18:00:00","v":6.29},{"t":"2020-10-30T01:00:00","v":5.93},
      {"t":"2020-11-01T08:00:00","v":5.67},{"t":"2020-11-03T15:00:00","v":6.22},{"t":"2020-11-05T22:00:00","v":5.49},{"t":"2020-11-08T04:00:00","v":6.59},
      {"t":"2020-11-10T11:00:00","v":5.31},{"t":"2020-11-12T18:00:00","v":5.12},{"t":"2020-11-16T04:00:00","v":4.94},{"t":"2020-11-19T14:00:00","v":5.05},
      {"t":"2020-11-21T21:00:00","v":4.94},{"t":"2020-11-24T04:00:00","v":5.49},{"t":"2020-11-25T07:00:00","v":6.77},{"t":"2020-11-26T11:00:00","v":5.67},
      {"t":"2020-11-29T21:00:00","v":5.85},{"t":"2020-12-03T07:00:00","v":5.78},{"t":"2020-12-05T14:00:00","v":6.04},{"t":"2020-12-07T07:00:00","v":6.66},
      {"t":"2020-12-09T00:00:00","v":5.56},{"t":"2020-12-11T06:00:00","v":5.49},{"t":"2020-12-14T17:00:00","v":5.56},{"t":"2020-12-18T03:00:00","v":5.31},
      {"t":"2020-12-20T10:00:00","v":4.94},{"t":"2020-12-23T20:00:00","v":4.94},{"t":"2020-12-28T09:00:00","v":4.83},{"t":"2021-01-01T23:00:00","v":4.94},
      {"t":"2021-01-06T12:00:00","v":4.94},{"t":"2021-01-09T23:00:00","v":4.76},{"t":"2021-01-14T12:00:00","v":4.94},{"t":"2021-01-17T22:00:00","v":4.57},
      {"t":"2021-01-20T05:00:00","v":4.21},{"t":"2021-01-23T15:00:00","v":4.10},{"t":"2021-01-27T01:00:00","v":3.95},{"t":"2021-01-29T08:00:00","v":4.83},
      {"t":"2021-01-31T15:00:00","v":3.84},{"t":"2021-02-04T01:00:00","v":3.48},{"t":"2021-02-07T11:00:00","v":3.37},{"t":"2021-02-10T21:00:00","v":3.66},
      {"t":"2021-02-14T07:00:00","v":4.21},{"t":"2021-02-16T14:00:00","v":3.73},{"t":"2021-02-20T00:00:00","v":3.84},{"t":"2021-02-24T14:00:00","v":3.73},
      {"t":"2021-03-01T03:00:00","v":3.84},{"t":"2021-03-05T17:00:00","v":3.66},{"t":"2021-03-08T00:00:00","v":3.95},{"t":"2021-03-09T03:00:00","v":4.76},
      {"t":"2021-03-11T10:00:00","v":4.39},{"t":"2021-03-14T20:00:00","v":4.57},{"t":"2021-03-19T10:00:00","v":4.32},{"t":"2021-03-23T23:00:00","v":4.21},
      {"t":"2021-03-28T13:00:00","v":4.10},{"t":"2021-04-02T02:00:00","v":3.95},{"t":"2021-04-05T12:00:00","v":3.73},{"t":"2021-04-08T23:00:00","v":3.95},
      {"t":"2021-04-13T12:00:00","v":3.84},{"t":"2021-04-18T02:00:00","v":4.10},{"t":"2021-04-22T15:00:00","v":4.10},{"t":"2021-04-27T05:00:00","v":4.32},
      {"t":"2021-05-01T18:00:00","v":4.39},{"t":"2021-05-06T08:00:00","v":4.46},{"t":"2021-05-09T18:00:00","v":5.12},{"t":"2021-05-10T21:00:00","v":5.85},
      {"t":"2021-05-13T04:00:00","v":5.49},{"t":"2021-05-16T14:00:00","v":5.31},{"t":"2021-05-21T04:00:00","v":5.31},{"t":"2021-05-25T17:00:00","v":5.42},
      {"t":"2021-05-29T03:00:00","v":5.93},{"t":"2021-05-31T10:00:00","v":4.68},{"t":"2021-06-03T20:00:00","v":4.57},{"t":"2021-06-08T10:00:00","v":4.57},
      {"t":"2021-06-12T23:00:00","v":4.32},{"t":"2021-06-16T10:00:00","v":3.84},{"t":"2021-06-20T23:00:00","v":4.02},{"t":"2021-06-25T13:00:00","v":3.95},
      {"t":"2021-06-30T02:00:00","v":3.95},{"t":"2021-07-03T12:00:00","v":3.84},{"t":"2021-07-06T23:00:00","v":4.02},{"t":"2021-07-10T09:00:00","v":4.57},
      {"t":"2021-07-14T22:00:00","v":4.68},{"t":"2021-07-19T12:00:00","v":4.76},{"t":"2021-07-22T22:00:00","v":5.12},{"t":"2021-07-26T08:00:00","v":5.31},
      {"t":"2021-07-29T18:00:00","v":5.67},{"t":"2021-08-02T04:00:00","v":5.93},{"t":"2021-08-04T11:00:00","v":6.77},{"t":"2021-08-05T14:00:00","v":7.87},
      {"t":"2021-08-07T08:00:00","v":8.78},{"t":"2021-08-08T11:00:00","v":11.34},{"t":"2021-08-09T14:00:00","v":14.82},{"t":"2021-08-10T18:01:00","v":11.34}
    ]
  },
  "concat": [
    {
      "title": "4 hours",
      "width": 210, "height": 138,
      "data": {"name": "p1"},
      "mark": {"type": "area", "interpolate": "step-after", "color": "#d6e7ee", "opacity": 1, "clip": true, "line": {"color": "#00698f", "strokeWidth": 1}},
      "encoding": {
        "x": {"field": "t", "type": "temporal",
          "scale": {"nice": false, "domain": [{"year":2021,"month":8,"date":10,"hours":14,"minutes":1},{"year":2021,"month":8,"date":10,"hours":18,"minutes":1}]},
          "axis": {"format": "%H:%M", "values": [
            {"year":2021,"month":8,"date":10,"hours":14,"minutes":1},
            {"year":2021,"month":8,"date":10,"hours":14,"minutes":34,"seconds":20},
            {"year":2021,"month":8,"date":10,"hours":15,"minutes":7,"seconds":40},
            {"year":2021,"month":8,"date":10,"hours":15,"minutes":41},
            {"year":2021,"month":8,"date":10,"hours":16,"minutes":14,"seconds":20},
            {"year":2021,"month":8,"date":10,"hours":16,"minutes":47,"seconds":40},
            {"year":2021,"month":8,"date":10,"hours":17,"minutes":21},
            {"year":2021,"month":8,"date":10,"hours":17,"minutes":54,"seconds":20}]}},
        "y": {"field": "v", "type": "quantitative",
          "scale": {"domain": [13, 15.5], "nice": false, "zero": false},
          "axis": {
            "values": [13,13.1,13.2,13.3,13.4,13.5,13.6,13.7,13.8,13.9,14,14.1,14.2,14.3,14.4,14.5,14.6,14.7,14.8,14.9,15,15.1,15.2,15.3,15.4,15.5],
            "labelExpr": "abs(datum.value*2-round(datum.value*2))>0.01 ? '' : format(datum.value,'.1f')",
            "tickSize": {"condition": {"test": "abs(datum.value*2-round(datum.value*2))>0.01", "value": -3}, "value": -5},
            "gridOpacity": {"condition": {"test": "abs(datum.value*2-round(datum.value*2))>0.01", "value": 0}, "value": 1}}}
      }
    },
    {
      "title": "12 hours",
      "width": 210, "height": 138,
      "data": {"name": "p2"},
      "mark": {"type": "area", "interpolate": "step-after", "color": "#d6e7ee", "opacity": 1, "clip": true, "line": {"color": "#00698f", "strokeWidth": 1}},
      "encoding": {
        "x": {"field": "t", "type": "temporal",
          "scale": {"nice": false, "domain": [{"year":2021,"month":8,"date":10,"hours":6,"minutes":1},{"year":2021,"month":8,"date":10,"hours":18,"minutes":1}]},
          "axis": {"format": "%H:%M", "values": [
            {"year":2021,"month":8,"date":10,"hours":6,"minutes":1},
            {"year":2021,"month":8,"date":10,"hours":8,"minutes":47,"seconds":40},
            {"year":2021,"month":8,"date":10,"hours":11,"minutes":34,"seconds":20},
            {"year":2021,"month":8,"date":10,"hours":14,"minutes":21},
            {"year":2021,"month":8,"date":10,"hours":17,"minutes":7,"seconds":40}]}},
        "y": {"field": "v", "type": "quantitative",
          "scale": {"domain": [11, 16], "nice": false, "zero": false},
          "axis": {
            "values": [11,11.5,12,12.5,13,13.5,14,14.5,15,15.5,16],
            "labelExpr": "datum.value%1!=0 ? '' : format(datum.value,'.1f')",
            "tickSize": {"condition": {"test": "datum.value%1!=0", "value": -3}, "value": -5},
            "gridOpacity": {"condition": {"test": "datum.value%1!=0", "value": 0}, "value": 1}}}
      }
    },
    {
      "title": "1 day",
      "width": 210, "height": 138,
      "data": {"name": "p3"},
      "mark": {"type": "area", "interpolate": "step-after", "color": "#d6e7ee", "opacity": 1, "clip": true, "line": {"color": "#00698f", "strokeWidth": 1}},
      "encoding": {
        "x": {"field": "t", "type": "temporal",
          "scale": {"nice": false, "domain": [{"year":2021,"month":8,"date":9,"hours":18,"minutes":1},{"year":2021,"month":8,"date":10,"hours":18,"minutes":1}]},
          "axis": {"format": "%H:%M", "values": [
            {"year":2021,"month":8,"date":9,"hours":18,"minutes":1},
            {"year":2021,"month":8,"date":9,"hours":23,"minutes":34,"seconds":20},
            {"year":2021,"month":8,"date":10,"hours":5,"minutes":7,"seconds":40},
            {"year":2021,"month":8,"date":10,"hours":10,"minutes":41},
            {"year":2021,"month":8,"date":10,"hours":16,"minutes":14,"seconds":20}]}},
        "y": {"field": "v", "type": "quantitative",
          "scale": {"domain": [11, 16], "nice": false, "zero": false},
          "axis": {
            "values": [11,11.5,12,12.5,13,13.5,14,14.5,15,15.5,16],
            "labelExpr": "datum.value%1!=0 ? '' : format(datum.value,'.1f')",
            "tickSize": {"condition": {"test": "datum.value%1!=0", "value": -3}, "value": -5},
            "gridOpacity": {"condition": {"test": "datum.value%1!=0", "value": 0}, "value": 1}}}
      }
    },
    {
      "title": "7 days",
      "width": 210, "height": 138,
      "data": {"name": "p4"},
      "mark": {"type": "area", "interpolate": "step-after", "color": "#d6e7ee", "opacity": 1, "clip": true, "line": {"color": "#00698f", "strokeWidth": 1}},
      "encoding": {
        "x": {"field": "t", "type": "temporal",
          "scale": {"nice": false, "domain": [{"year":2021,"month":8,"date":3,"hours":18,"minutes":1},{"year":2021,"month":8,"date":10,"hours":18,"minutes":1}]},
          "axis": {"format": "%d.%m", "values": [
            {"year":2021,"month":8,"date":3,"hours":18,"minutes":1},
            {"year":2021,"month":8,"date":4,"hours":21,"minutes":47,"seconds":40},
            {"year":2021,"month":8,"date":6,"hours":1,"minutes":34,"seconds":20},
            {"year":2021,"month":8,"date":7,"hours":5,"minutes":21},
            {"year":2021,"month":8,"date":8,"hours":9,"minutes":7,"seconds":40},
            {"year":2021,"month":8,"date":9,"hours":12,"minutes":54,"seconds":20},
            {"year":2021,"month":8,"date":10,"hours":16,"minutes":41}]}},
        "y": {"field": "v", "type": "quantitative",
          "scale": {"domain": [4, 16], "nice": false, "zero": false},
          "axis": {
            "values": [4,5,6,7,8,9,10,11,12,13,14,15,16],
            "labelExpr": "datum.value%2!=0 ? '' : format(datum.value,'d')",
            "tickSize": {"condition": {"test": "datum.value%2!=0", "value": -3}, "value": -5},
            "gridOpacity": {"condition": {"test": "datum.value%2!=0", "value": 0}, "value": 1}}}
      }
    },
    {
      "title": "14 days",
      "width": 210, "height": 138,
      "data": {"name": "p5"},
      "mark": {"type": "area", "interpolate": "step-after", "color": "#d6e7ee", "opacity": 1, "clip": true, "line": {"color": "#00698f", "strokeWidth": 1}},
      "encoding": {
        "x": {"field": "t", "type": "temporal",
          "scale": {"nice": false, "domain": [{"year":2021,"month":7,"date":27,"hours":18,"minutes":1},{"year":2021,"month":8,"date":10,"hours":18,"minutes":1}]},
          "axis": {"format": "%d.%m", "values": [
            {"year":2021,"month":7,"date":27,"hours":18,"minutes":1},
            {"year":2021,"month":7,"date":30,"hours":1,"minutes":34,"seconds":20},
            {"year":2021,"month":8,"date":1,"hours":9,"minutes":7,"seconds":40},
            {"year":2021,"month":8,"date":3,"hours":16,"minutes":41},
            {"year":2021,"month":8,"date":6,"hours":0,"minutes":14,"seconds":20},
            {"year":2021,"month":8,"date":8,"hours":7,"minutes":47,"seconds":40},
            {"year":2021,"month":8,"date":10,"hours":15,"minutes":21}]}},
        "y": {"field": "v", "type": "quantitative",
          "scale": {"domain": [0, 20], "nice": false},
          "axis": {
            "values": [0,1,2,3,4,5,6,7,8,9,10,11,12,13,14,15,16,17,18,19,20],
            "labelExpr": "datum.value%5!=0 ? '' : format(datum.value,'d')",
            "tickSize": {"condition": {"test": "datum.value%5!=0", "value": -3}, "value": -5},
            "gridOpacity": {"condition": {"test": "datum.value%5!=0", "value": 0}, "value": 1}}}
      }
    },
    {
      "title": "30 days",
      "width": 210, "height": 138,
      "data": {"name": "p6"},
      "mark": {"type": "area", "interpolate": "step-after", "color": "#d6e7ee", "opacity": 1, "clip": true, "line": {"color": "#00698f", "strokeWidth": 1}},
      "encoding": {
        "x": {"field": "t", "type": "temporal",
          "scale": {"nice": false, "domain": [{"year":2021,"month":7,"date":11,"hours":18,"minutes":1},{"year":2021,"month":8,"date":10,"hours":18,"minutes":1}]},
          "axis": {"format": "%d.%m", "values": [
            {"year":2021,"month":7,"date":11,"hours":18,"minutes":1},
            {"year":2021,"month":7,"date":17,"hours":12,"minutes":54,"seconds":20},
            {"year":2021,"month":7,"date":23,"hours":7,"minutes":47,"seconds":40},
            {"year":2021,"month":7,"date":29,"hours":2,"minutes":41},
            {"year":2021,"month":8,"date":3,"hours":21,"minutes":34,"seconds":20},
            {"year":2021,"month":8,"date":9,"hours":16,"minutes":27,"seconds":40}]}},
        "y": {"field": "v", "type": "quantitative",
          "scale": {"domain": [0, 20], "nice": false},
          "axis": {
            "values": [0,1,2,3,4,5,6,7,8,9,10,11,12,13,14,15,16,17,18,19,20],
            "labelExpr": "datum.value%5!=0 ? '' : format(datum.value,'d')",
            "tickSize": {"condition": {"test": "datum.value%5!=0", "value": -3}, "value": -5},
            "gridOpacity": {"condition": {"test": "datum.value%5!=0", "value": 0}, "value": 1}}}
      }
    },
    {
      "title": "90 days",
      "width": 210, "height": 138,
      "data": {"name": "p7"},
      "mark": {"type": "area", "interpolate": "step-after", "color": "#d6e7ee", "opacity": 1, "clip": true, "line": {"color": "#00698f", "strokeWidth": 1}},
      "encoding": {
        "x": {"field": "t", "type": "temporal",
          "scale": {"nice": false, "domain": [{"year":2021,"month":5,"date":12,"hours":18,"minutes":1},{"year":2021,"month":8,"date":10,"hours":18,"minutes":1}]},
          "axis": {"format": "%b", "values": [
            {"year":2021,"month":5,"date":12,"hours":18,"minutes":1},
            {"year":2021,"month":5,"date":24,"hours":7,"minutes":47,"seconds":40},
            {"year":2021,"month":6,"date":4,"hours":21,"minutes":34,"seconds":20},
            {"year":2021,"month":6,"date":16,"hours":11,"minutes":21},
            {"year":2021,"month":6,"date":28,"hours":1,"minutes":7,"seconds":40},
            {"year":2021,"month":7,"date":9,"hours":14,"minutes":54,"seconds":20},
            {"year":2021,"month":7,"date":21,"hours":4,"minutes":41},
            {"year":2021,"month":8,"date":1,"hours":18,"minutes":27,"seconds":40}]}},
        "y": {"field": "v", "type": "quantitative",
          "scale": {"domain": [0, 15], "nice": false},
          "axis": {
            "values": [0,1,2,3,4,5,6,7,8,9,10,11,12,13,14,15],
            "labelExpr": "datum.value%5!=0 ? '' : format(datum.value,'d')",
            "tickSize": {"condition": {"test": "datum.value%5!=0", "value": -3}, "value": -5},
            "gridOpacity": {"condition": {"test": "datum.value%5!=0", "value": 0}, "value": 1}}}
      }
    },
    {
      "title": "180 days",
      "width": 210, "height": 138,
      "data": {"name": "p8"},
      "mark": {"type": "area", "interpolate": "step-after", "color": "#d6e7ee", "opacity": 1, "clip": true, "line": {"color": "#00698f", "strokeWidth": 1}},
      "encoding": {
        "x": {"field": "t", "type": "temporal",
          "scale": {"nice": false, "domain": [{"year":2021,"month":2,"date":11,"hours":18,"minutes":1},{"year":2021,"month":8,"date":10,"hours":18,"minutes":1}]},
          "axis": {"format": "%b", "values": [
            {"year":2021,"month":2,"date":11,"hours":18,"minutes":1},
            {"year":2021,"month":3,"date":6,"hours":21,"minutes":34,"seconds":20},
            {"year":2021,"month":3,"date":30,"hours":1,"minutes":7,"seconds":40},
            {"year":2021,"month":4,"date":22,"hours":4,"minutes":41},
            {"year":2021,"month":5,"date":15,"hours":8,"minutes":14,"seconds":20},
            {"year":2021,"month":6,"date":7,"hours":11,"minutes":47,"seconds":40},
            {"year":2021,"month":6,"date":30,"hours":15,"minutes":21},
            {"year":2021,"month":7,"date":23,"hours":18,"minutes":54,"seconds":20}]}},
        "y": {"field": "v", "type": "quantitative",
          "scale": {"domain": [0, 15], "nice": false},
          "axis": {
            "values": [0,1,2,3,4,5,6,7,8,9,10,11,12,13,14,15],
            "labelExpr": "datum.value%5!=0 ? '' : format(datum.value,'d')",
            "tickSize": {"condition": {"test": "datum.value%5!=0", "value": -3}, "value": -5},
            "gridOpacity": {"condition": {"test": "datum.value%5!=0", "value": 0}, "value": 1}}}
      }
    },
    {
      "title": "360 days",
      "width": 210, "height": 138,
      "data": {"name": "p9"},
      "mark": {"type": "area", "interpolate": "step-after", "color": "#d6e7ee", "opacity": 1, "clip": true, "line": {"color": "#00698f", "strokeWidth": 1}},
      "encoding": {
        "x": {"field": "t", "type": "temporal",
          "scale": {"nice": false, "domain": [{"year":2020,"month":8,"date":15,"hours":18,"minutes":1},{"year":2021,"month":8,"date":10,"hours":18,"minutes":1}]},
          "axis": {"format": "%b", "values": [
            {"year":2020,"month":8,"date":15,"hours":18,"minutes":1},
            {"year":2020,"month":10,"date":12,"hours":14,"minutes":54,"seconds":20},
            {"year":2020,"month":12,"date":9,"hours":11,"minutes":47,"seconds":40},
            {"year":2021,"month":2,"date":5,"hours":8,"minutes":41},
            {"year":2021,"month":4,"date":4,"hours":5,"minutes":34,"seconds":20},
            {"year":2021,"month":6,"date":1,"hours":2,"minutes":27,"seconds":40},
            {"year":2021,"month":7,"date":28,"hours":23,"minutes":21}]}},
        "y": {"field": "v", "type": "quantitative",
          "scale": {"domain": [0, 15], "nice": false},
          "axis": {
            "values": [0,1,2,3,4,5,6,7,8,9,10,11,12,13,14,15],
            "labelExpr": "datum.value%5!=0 ? '' : format(datum.value,'d')",
            "tickSize": {"condition": {"test": "datum.value%5!=0", "value": -3}, "value": -5},
            "gridOpacity": {"condition": {"test": "datum.value%5!=0", "value": 0}, "value": 1}}}
      }
    }
  ],
  "config": {
    "font": "DejaVu Sans",
    "view": {"fill": "white", "stroke": null},
    "title": {"fontSize": 13, "fontWeight": "normal", "color": "black", "frame": "group", "anchor": "middle", "dx": -8, "offset": -1},
    "axis": {"title": null, "labelFont": "DejaVu Sans", "labelFontSize": 10, "labelColor": "black", "domainColor": "black", "tickColor": "black", "gridColor": "#c4c4c4", "labelOverlap": false, "labelFlush": false},
    "axisX": {"grid": false, "labelAngle": -20, "labelAlign": "right", "labelBaseline": "top", "tickSize": -5, "labelPadding": 9},
    "axisY": {"grid": true, "labelPadding": 15}
  }
}
